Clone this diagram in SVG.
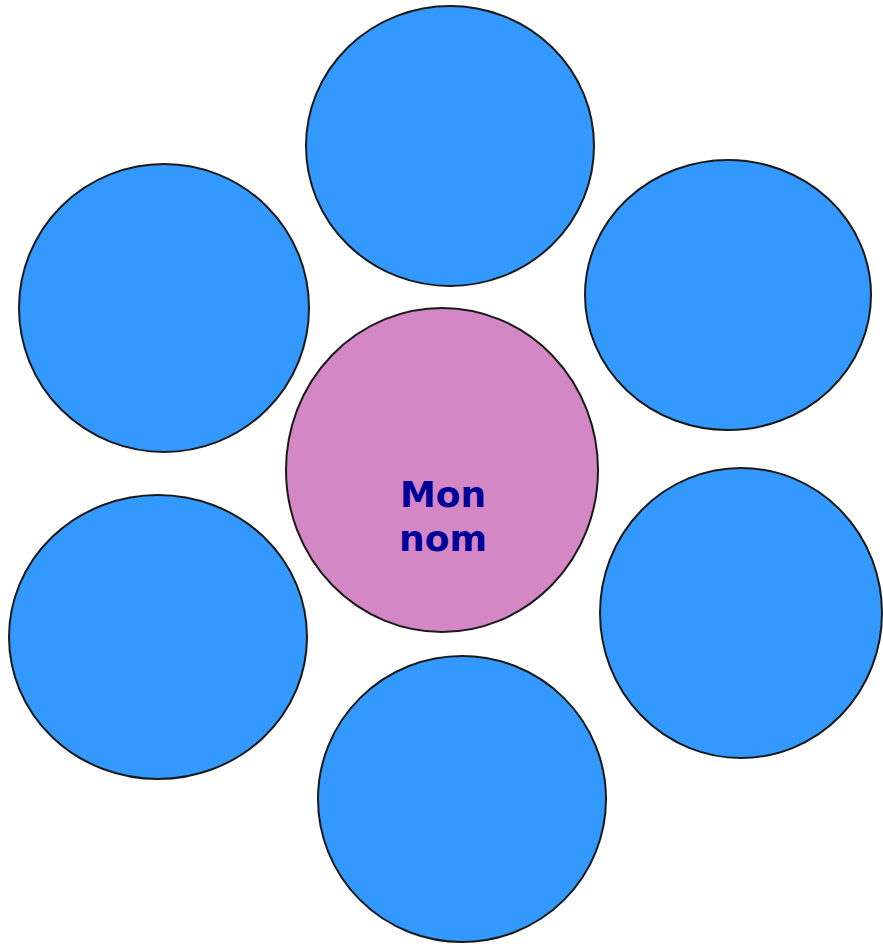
<svg xmlns="http://www.w3.org/2000/svg" width="883" height="944" viewBox="0 0 883 944">
<style>
.b{fill:#3399ff;stroke:#1a1a1a;stroke-width:2}
.c{fill:#d387c4;stroke:#1a1a1a;stroke-width:2}
.t{font-family:"DejaVu Sans",Verdana,sans-serif;font-weight:bold;font-size:36px;fill:#000099;text-anchor:middle}
</style>
<rect width="883" height="944" fill="#ffffff"/>
<g id="connectors"></g>
<g id="top"><ellipse class="b" cx="450" cy="146" rx="144" ry="140"/></g>
<g id="upper-left"><ellipse class="b" cx="164" cy="308" rx="145" ry="144"/></g>
<g id="upper-right"><ellipse class="b" cx="728" cy="295" rx="143" ry="135"/></g>
<g id="lower-left"><ellipse class="b" cx="158" cy="637" rx="149" ry="142"/></g>
<g id="lower-right"><ellipse class="b" cx="741" cy="613" rx="141" ry="145"/></g>
<g id="bottom"><ellipse class="b" cx="462" cy="799" rx="144" ry="143"/></g>
<g id="center"><ellipse class="c" cx="442" cy="470" rx="156" ry="162"/>
<text class="t" x="443" y="507">Mon</text>
<text class="t" x="443" y="551">nom</text></g>
</svg>
